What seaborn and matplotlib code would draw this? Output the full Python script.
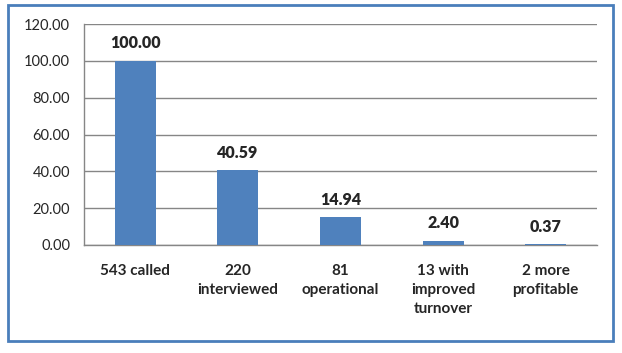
import matplotlib.pyplot as plt
import seaborn as sns
import pandas as pd
from matplotlib.patches import Rectangle

# donnees
categories = ["543 called", "220\ninterviewed", "81\noperational", "13 with\nimproved\nturnover", "2 more\nprofitable"]
percentages = [100.00, 40.59, 14.94, 2.40, 0.37]

df = pd.DataFrame({"categorie": categories, "pct": percentages})

sns.set_style("white")
plt.rcParams['font.family'] = ['Lato', 'DejaVu Sans']

fig = plt.figure(figsize=(6.22, 3.53), dpi=100)
ax = fig.add_axes([84/622, 108/353, 513/622, 221/353])

sns.barplot(data=df, x="categorie", y="pct", color="#4F81BD", width=0.4,
            saturation=1, linewidth=0, ax=ax, zorder=3)

ax.set_ylim(0, 120)
ax.set_xlim(-0.5, 4.5)
ax.set_yticks(range(0, 121, 20))
ax.set_yticklabels([f"{v:.2f}" for v in range(0, 121, 20)], fontsize=10.5)
ax.yaxis.grid(True, color="#868686", linewidth=1, zorder=0)
ax.tick_params(axis="y", length=0, pad=10)
ax.set_xlabel("")
ax.set_ylabel("")
ax.set_xticks(range(len(categories)))
ax.set_xticklabels(categories, fontsize=11, fontweight="bold", linespacing=1.45)
ax.tick_params(axis="x", which="major", length=0, pad=14)
ax.set_xticks([i - 0.5 for i in range(len(categories) + 1)], minor=True)
ax.tick_params(axis="x", which="minor", length=5, color="#868686", width=1)

for s in ["top", "right"]:
    ax.spines[s].set_visible(False)
for s in ["left", "bottom"]:
    ax.spines[s].set_color("#868686")
    ax.spines[s].set_linewidth(1)

for i, v in enumerate(percentages):
    ax.annotate(f"{v:.2f}", (i, v), xytext=(0, 7), textcoords="offset points",
                ha="center", va="bottom", fontsize=11.5, fontweight="heavy")

# cadre bleu autour du graphique
fig.patches.append(Rectangle((8/622, 12/353), 605/622, 336/353, transform=fig.transFigure,
                             fill=False, edgecolor="#4A7EBB", linewidth=2))

plt.savefig("out.png", dpi=100)
